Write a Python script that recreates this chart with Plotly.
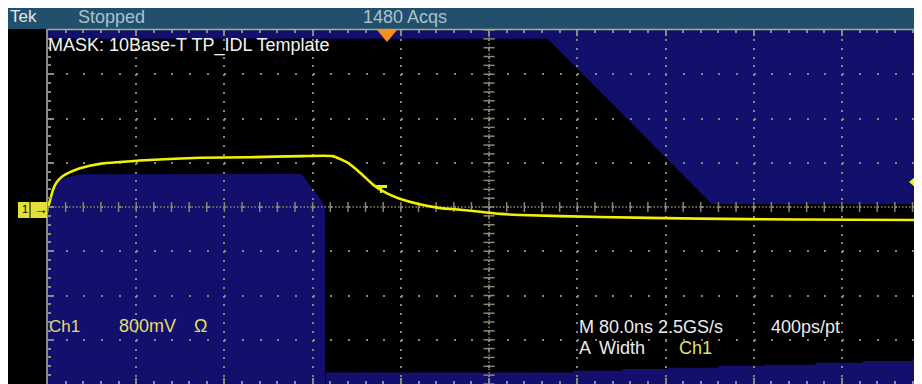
"""Tek scope screen: 10Base-T TP_IDL mask test, Ch1 at 800 mV/div, 80 ns/div."""

import plotly.graph_objects as go

PAGE_W, PAGE_H = 922, 384
BODY = 8                 # default browser body margin around the figure
W, H = PAGE_W - BODY, PAGE_H - BODY
L, T = 48, 30            # graticule origin on the page (px)
X_MAX = 792.6            # ns; the capture cuts the 10th division a little short
Y_MAX = 3.2              # V; 4 div x 800 mV

BLUE = "#12106c"         # mask fill
GRID = "#8a8670"         # graticule dots
TEAL = "#22506c"         # status bar
YEL = "#f2f200"          # Ch1 trace
YEL_TXT = "#e4de6c"

# Ch1 acquired waveform (ns, V)
trace_t = [0, 2, 4.5, 8, 13.5, 20, 29, 47, 92, 138, 183, 230, 258, 271, 283, 295,
           307, 319, 337, 356, 374, 392, 410, 428, 500, 590, 680, 793]
trace_v = [0, 0.13, 0.31, 0.45, 0.56, 0.63, 0.70, 0.78, 0.85, 0.89, 0.90, 0.92, 0.92,
           0.81, 0.62, 0.40, 0.25, 0.15, 0.05, -0.02, -0.05, -0.085, -0.125, -0.145,
           -0.18, -0.21, -0.225, -0.235]

# mask template: upper region (ns, V)
mask_top_t = [0, 800, 800, 602, 453, 0]
mask_top_v = [3.2, 3.2, 0.054, 0.054, 3.04, 3.04]

# mask template: lower-left pulse region
mask_low_t = [0, 0, 1.8, 4.5, 10.9, 17.2, 29, 229, 233, 239.5, 246.7, 251.2, 251.2]
mask_low_v = [-3.2, 0, 0.16, 0.36, 0.49, 0.54, 0.59, 0.60, 0.52, 0.34, 0.16, 0, -3.2]

# mask template: bottom staircase
mask_bot_t = [252, 476, 521, 562, 608, 650, 696, 739, 784]
mask_bot_v = [-2.99, -2.96, -2.93, -2.905, -2.875, -2.85, -2.815, -2.785, -2.75]


def px(x):
    """Page px -> paper x."""
    return (x - L) / (PAGE_W - L)


def py(y):
    """Page px -> paper y."""
    return (PAGE_H - y) / (PAGE_H - T)


def poly(ts, vs):
    return "M " + " L ".join(f"{t},{v}" for t, v in zip(ts, vs)) + " Z"


def stairs(ts, vs):
    pts = [(ts[0], -Y_MAX)]
    for i, (t, v) in enumerate(zip(ts, vs)):
        pts.append((t, v))
        nxt = ts[i + 1] if i + 1 < len(ts) else 800
        pts.append((nxt, v))
    pts.append((800, -Y_MAX))
    return poly([p[0] for p in pts], [p[1] for p in pts])


fig = go.Figure()

# center graticule cross ticks
fig.add_trace(go.Scatter(
    x=[16 * k for k in range(51)], y=[0] * 51, mode="markers", hoverinfo="skip",
    marker=dict(symbol="line-ns-open", size=7, color=GRID, line=dict(width=1.5)),
))
fig.add_trace(go.Scatter(
    x=[400] * 41, y=[-3.2 + 0.16 * k for k in range(41)], mode="markers",
    hoverinfo="skip",
    marker=dict(symbol="line-ew-open", size=8, color=GRID, line=dict(width=1.5)),
))
fig.add_trace(go.Scatter(
    x=trace_t, y=trace_v, mode="lines", hoverinfo="skip",
    line=dict(color=YEL, width=2.6, shape="spline", smoothing=0.5),
))

shapes = [
    dict(type="path", path=poly(mask_top_t, mask_top_v), xref="x", yref="y",
         fillcolor=BLUE, line_width=0, layer="below"),
    dict(type="path", path=poly(mask_low_t, mask_low_v), xref="x", yref="y",
         fillcolor=BLUE, line_width=0, layer="below"),
    dict(type="path", path=stairs(mask_bot_t, mask_bot_v), xref="x", yref="y",
         fillcolor=BLUE, line_width=0, layer="below"),
    # center lines
    dict(type="line", xref="x", yref="y", x0=0, x1=800, y0=0, y1=0, layer="between",
         line=dict(color=GRID, width=1.5, dash="1.5px,2px")),
    dict(type="line", xref="x", yref="y", x0=400, x1=400, y0=-3.2, y1=3.2,
         layer="between", line=dict(color=GRID, width=1.5, dash="1.5px,2px")),
    # status bar
    dict(type="rect", xref="paper", yref="paper", x0=px(BODY), x1=px(PAGE_W),
         y0=py(29), y1=py(BODY), fillcolor=TEAL, line_width=0),
    dict(type="line", xref="paper", yref="paper", x0=px(L), x1=px(PAGE_W), y0=py(29.5),
         y1=py(29.5), line=dict(color="#9cb47c", width=1.5)),
    # trigger position marker
    dict(type="path", xref="paper", yref="paper", fillcolor="#f7901e", line_width=0,
         path=f"M {px(377)},{py(30)} L {px(397)},{py(30)} L {px(387)},{py(42)} Z"),
    # trigger level marker (right)
    dict(type="path", xref="paper", yref="paper", fillcolor=YEL, line_width=0,
         path=f"M {px(909)},{py(182)} L {px(916)},{py(176)} L {px(916)},{py(188)} Z"),
    dict(type="line", xref="paper", yref="paper", x0=px(915), x1=px(PAGE_W), y0=py(182),
         y1=py(182), line=dict(color=YEL, width=2)),
    # trigger point flag on the trace
    dict(type="rect", xref="paper", yref="paper", x0=px(376), x1=px(387), y0=py(188),
         y1=py(185), fillcolor=YEL, line_width=0),
    dict(type="line", xref="paper", yref="paper", x0=px(381), x1=px(381), y0=py(193),
         y1=py(186), line=dict(color=YEL, width=2)),
    # Ch1 ground marker
    dict(type="rect", xref="paper", yref="paper", x0=px(18), x1=px(47), y0=py(218),
         y1=py(202), fillcolor="#e2e03a", line_width=0),
    dict(type="line", xref="paper", yref="paper", x0=px(30), x1=px(30), y0=py(218),
         y1=py(202), line=dict(color="black", width=1)),
]

FONT = "Liberation Sans, Arial, sans-serif"


def label(text, x, y, color="#ececec", size=18):
    return dict(text=text, x=px(x), y=py(y), xref="paper", yref="paper",
                xanchor="left", yanchor="middle", showarrow=False, borderpad=0,
                font=dict(family=FONT, size=size, color=color))


annotations = [
    label("Tek", 9, 17, "#e2e8ec", 17),
    label("Stopped", 77, 17, "#a8c2cc"),
    label("1480 Acqs", 362, 17, "#a8c2cc"),
    label("MASK: 10Base-T TP_IDL Template", 47, 45, "#f4f4f4"),
    label("Ch1", 48, 326, YEL_TXT, 17),
    label("800mV", 118, 326, YEL_TXT),
    label("Ω", 193, 326, YEL_TXT),
    label("M 80.0ns 2.5GS/s", 578, 327),
    label("400ps/pt", 770, 327),
    label("A", 578, 348),
    label("Width", 598, 348),
    label("Ch1", 678, 348, YEL_TXT),
    label("1", 21, 209, "black", 11),
    label("→", 33, 209, "black", 14),
]

axis_common = dict(
    showticklabels=False, zeroline=False, showline=True, linecolor="#8a8a80",
    linewidth=1.5, ticks="inside", ticklen=6, tickwidth=1.5, tickcolor="#8a8a80",
    gridcolor=GRID, gridwidth=2,
)

fig.update_layout(
    width=W, height=H,
    margin=dict(l=L - BODY, r=0, t=T - BODY, b=0, pad=0),
    paper_bgcolor="black", plot_bgcolor="black", showlegend=False,
    shapes=shapes, annotations=annotations,
    xaxis=dict(range=[0, X_MAX], dtick=80, tick0=0, mirror="ticks",
               griddash="2px,6.85px",
               minor=dict(dtick=16, tick0=0, ticks="inside", ticklen=3,
                          tickcolor="#8a8a80", tickwidth=1.5, showgrid=False),
               **axis_common),
    yaxis=dict(range=[-Y_MAX, Y_MAX], dtick=0.8, tick0=0, griddash="2px,15.64px",
               minor=dict(dtick=0.16, tick0=0, ticks="inside", ticklen=3,
                          tickcolor="#8a8a80", tickwidth=1.5, showgrid=False),
               **axis_common),
)

fig.write_html("out.html")
